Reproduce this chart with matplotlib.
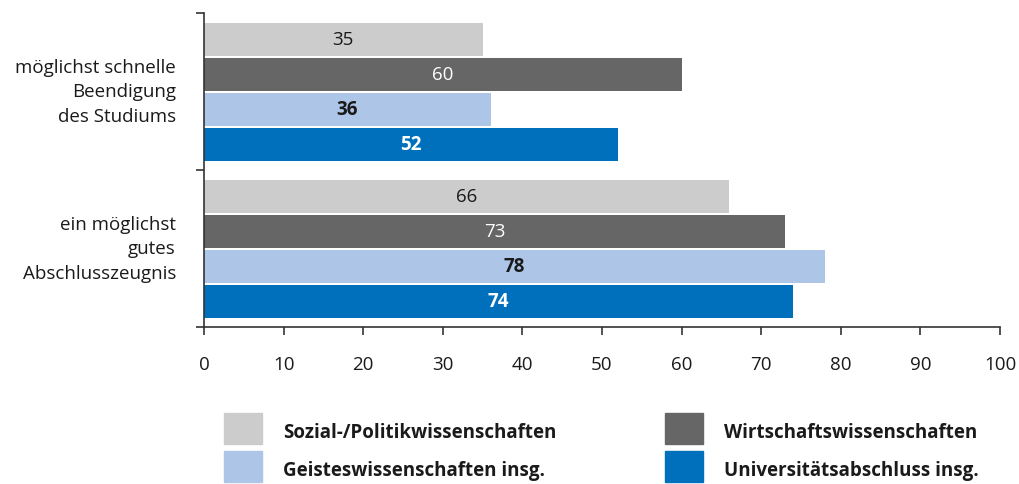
import numpy as np
import matplotlib
matplotlib.use("Agg")
import matplotlib.pyplot as plt
import matplotlib.transforms as mtransforms
from matplotlib.patches import Rectangle

plt.rcParams['font.family'] = ['Open Sans', 'DejaVu Sans']

# --- data ---
categories = ['möglichst schnelle\nBeendigung\ndes Studiums',
              'ein möglichst\ngutes\nAbschlusszeugnis']
series_names = ['Sozial-/Politikwissenschaften', 'Wirtschaftswissenschaften',
                'Geisteswissenschaften insg.', 'Universitätsabschluss insg.']
soz_pol = [35, 66]
wirtschaft = [60, 73]
geistes = [36, 78]
uni_insg = [52, 74]
x_ticks = [0, 10, 20, 30, 40, 50, 60, 70, 80, 90, 100]

series = [soz_pol, wirtschaft, geistes, uni_insg]
colors = ['#cccccc', '#666666', '#adc5e6', '#0070bd']
label_colors = ['#1a1a1a', 'white', '#1a1a1a', 'white']
label_weights = ['normal', 'normal', 'bold', 'bold']

fig = plt.figure(figsize=(10.2, 4.85), dpi=100)
ax = fig.add_axes([204 / 1020, 1 - 328 / 485, 796 / 1020, 314 / 485])

slot = 35 / 157
bar_h = 33 / 157
y = np.arange(len(categories))
for i, vals in enumerate(series):
    pos = y + (i - 1.5) * slot
    ax.barh(pos, vals, height=bar_h, color=colors[i], edgecolor='none')
    for p, v in zip(pos, vals):
        ax.text(v / 2, p, str(v), ha='center', va='center', fontsize=13.5,
                color=label_colors[i], fontweight=label_weights[i])

ax.set_xlim(0, 100)
ax.set_ylim(1.5, -0.5)
ax.set_xticks(x_ticks)
ax.set_xticklabels([str(t) for t in x_ticks], fontsize=13.5, color='#1a1a1a')
ax.tick_params(axis='x', length=6, width=1.2, color='#333333', pad=14)

# category labels drawn as text so the line spacing sticks
ax.set_yticks([])
ax.set_yticks([-0.5, 0.5, 1.5], minor=True)
ax.tick_params(axis='y', which='minor', length=6, width=1.2, color='#333333')
trans = mtransforms.blended_transform_factory(ax.transAxes, ax.transData)
for yy, cat in zip(y, categories):
    ax.text(-28 / 796, yy, cat, transform=trans, ha='right', va='center',
            multialignment='right', fontsize=13.5, color='#1a1a1a',
            linespacing=1.45)

for s in ['top', 'right']:
    ax.spines[s].set_visible(False)
for s in ['left', 'bottom']:
    ax.spines[s].set_color('#333333')
    ax.spines[s].set_linewidth(1.2)

# --- legend (manual, in figure pixels) ---
W, H = 1020, 485
leg_pos = [(224, 414), (665, 414), (224, 452), (665, 452)]
for (px, py), name, col in zip(leg_pos, series_names, colors):
    fig.patches.append(Rectangle((px / W, 1 - (py + 31) / H), 38 / W, 31 / H,
                                 transform=fig.transFigure, color=col))
    fig.text((px + 59) / W, 1 - (py + 19) / H, name, fontsize=13.5,
             fontweight='bold', va='center', ha='left', color='#1a1a1a')

fig.savefig('out.png', dpi=100)
